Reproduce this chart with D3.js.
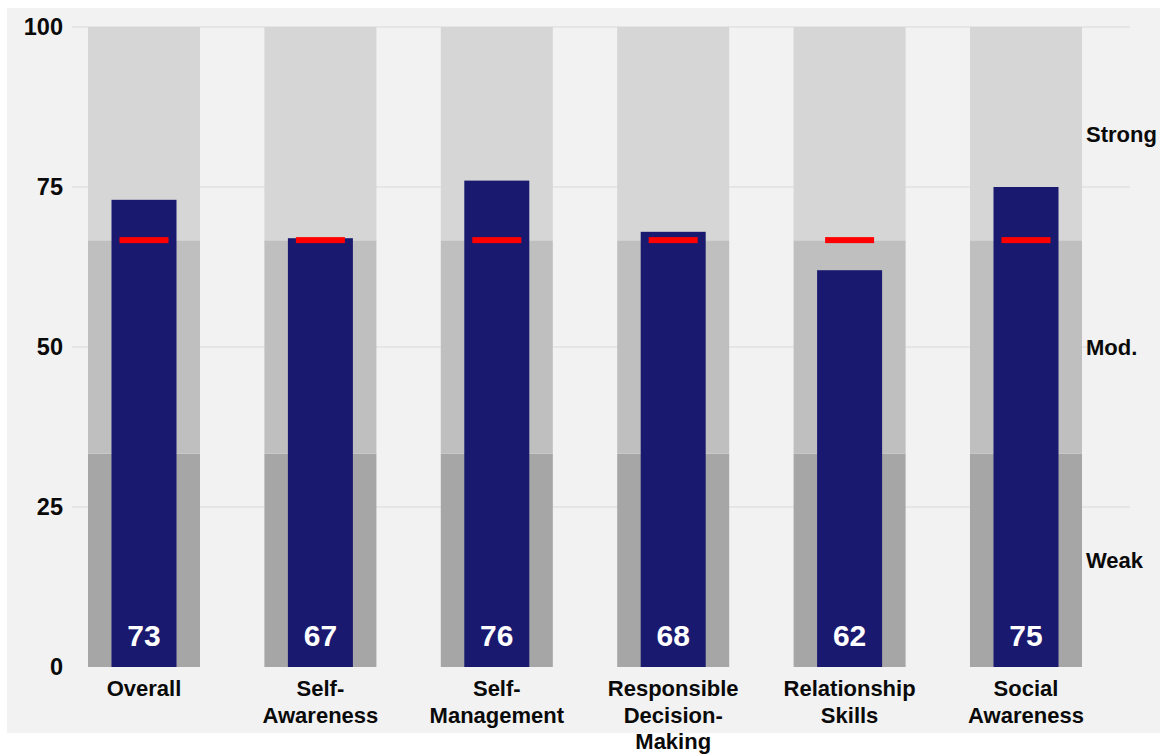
<!DOCTYPE html>
<html>
<head>
<meta charset="utf-8">
<title>Competency Scores</title>
<script src="https://d3js.org/d3.v7.min.js"></script>
<style>
  body { margin: 0; background: #fff; }
  svg text { font-family: "Liberation Sans", Arial, sans-serif; font-weight: bold; }
</style>
</head>
<body>
<svg id="chart" width="1163" height="755"></svg>
<script>
// data
var categories = [["Overall"], ["Self-", "Awareness"], ["Self-", "Management"],
                  ["Responsible", "Decision-", "Making"], ["Relationship", "Skills"], ["Social", "Awareness"]];
var scores = [73, 67, 76, 68, 62, 75];
var target = 66.7;
var bandNames = ["Weak", "Mod.", "Strong"];
var bandLimits = [0, 33.33, 66.67, 100];
var bandColors = ["#a6a6a6", "#bfbfbf", "#d6d6d6"];
var yTicks = [0, 25, 50, 75, 100];

var svg = d3.select("#chart");

// panel background
svg.append("rect").attr("x", 7).attr("y", 8).attr("width", 1153).attr("height", 725).attr("fill", "#f2f2f2");

var keys = categories.map(function(c) { return c.join(" "); });

var x = d3.scaleBand()
    .domain(keys)
    .range([55.8, 1114.2])
    .paddingInner(0.365)
    .paddingOuter(0.1825);

var y = d3.scaleLinear().domain([0, 100]).range([667, 27]);

// gridlines
svg.append("g").selectAll("line")
    .data(yTicks.slice(1))
    .enter().append("line")
    .attr("x1", 72).attr("x2", 1130)
    .attr("y1", function(d) { return y(d); })
    .attr("y2", function(d) { return y(d); })
    .attr("stroke", "#d9d9d9").attr("stroke-width", 1);

// y axis labels
var yAxis = d3.axisLeft(y).tickValues(yTicks).tickSize(0).tickPadding(0);
var ga = svg.append("g").attr("transform", "translate(63,0)").call(yAxis);
ga.select(".domain").remove();
ga.selectAll("text").attr("font-size", 23.5).attr("fill", "#0a0a0a")
    .style("font-family", "'Liberation Sans', Arial, sans-serif").style("font-weight", "bold");

// background bands per column
var cols = svg.append("g").selectAll("g")
    .data(keys)
    .enter().append("g")
    .attr("transform", function(d) { return "translate(" + x(d) + ",0)"; });

bandNames.forEach(function(name, i) {
    cols.append("rect")
        .attr("x", 0)
        .attr("width", x.bandwidth())
        .attr("y", y(bandLimits[i + 1]))
        .attr("height", y(bandLimits[i]) - y(bandLimits[i + 1]))
        .attr("fill", bandColors[i]);
});

var barW = 65, tgtW = 49;

// score bars
svg.append("g").selectAll("rect")
    .data(scores)
    .enter().append("rect")
    .attr("x", function(d, i) { return x(keys[i]) + (x.bandwidth() - barW) / 2; })
    .attr("width", barW)
    .attr("y", function(d) { return y(d); })
    .attr("height", function(d) { return y(0) - y(d); })
    .attr("fill", "#191970");

// target markers
svg.append("g").selectAll("rect")
    .data(scores)
    .enter().append("rect")
    .attr("x", function(d, i) { return x(keys[i]) + (x.bandwidth() - tgtW) / 2; })
    .attr("width", tgtW)
    .attr("y", y(target) - 3)
    .attr("height", 6)
    .attr("fill", "#ff0000");

// value labels
svg.append("g").selectAll("text")
    .data(scores)
    .enter().append("text")
    .attr("x", function(d, i) { return x(keys[i]) + x.bandwidth() / 2; })
    .attr("y", 646)
    .attr("text-anchor", "middle")
    .attr("font-size", 30)
    .attr("fill", "#fff")
    .text(function(d) { return d; });

// category labels
var cl = svg.append("g").selectAll("text")
    .data(categories)
    .enter().append("text")
    .attr("text-anchor", "middle")
    .attr("font-size", 22)
    .attr("fill", "#0a0a0a")
    .attr("transform", function(d, i) { return "translate(" + (x(keys[i]) + x.bandwidth() / 2) + ",696)"; });
cl.selectAll("tspan")
    .data(function(d) { return d; })
    .enter().append("tspan")
    .attr("x", 0)
    .attr("dy", function(d, i) { return i === 0 ? 0 : 26.5; })
    .text(function(d) { return d; });

// band names on the right
svg.append("g").selectAll("text")
    .data(bandNames)
    .enter().append("text")
    .attr("x", 1086)
    .attr("y", function(d, i) { return y((bandLimits[i] + bandLimits[i + 1]) / 2) + 8; })
    .attr("font-size", 22)
    .attr("fill", "#0a0a0a")
    .text(function(d) { return d; });
</script>
</body>
</html>
